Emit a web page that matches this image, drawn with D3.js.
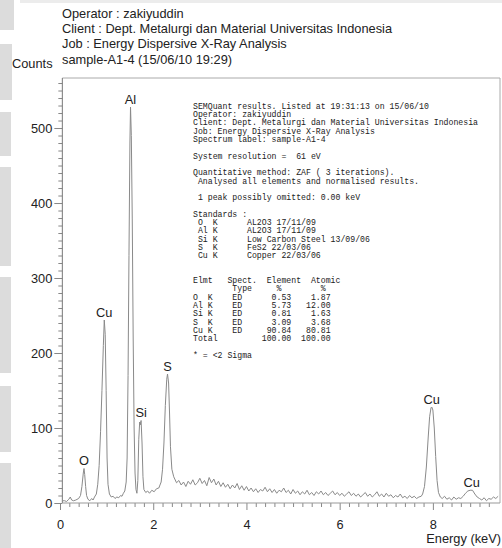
<!DOCTYPE html>
<html>
<head>
<meta charset="utf-8">
<script src="https://cdn.jsdelivr.net/npm/d3@7"></script>
<style>
  body { margin: 0; background: #fff; }
  svg { display: block; }
</style>
</head>
<body>
<svg id="chart" width="502" height="548"></svg>
<script>
// ---- Header lines printed above the spectrum ----
const headerLines = [
  "Operator : zakiyuddin",
  "Client : Dept. Metalurgi dan Material Universitas Indonesia",
  "Job : Energy Dispersive X-Ray Analysis",
  "sample-A1-4 (15/06/10 19:29)"
];

// ---- EDS spectrum: [energy keV, counts] ----
const spectrum = [
  [0.06,3],[0.10,3],[0.14,2],[0.19,5],[0.22,8],[0.25,4],[0.29,3],[0.34,4],[0.40,6],[0.44,10],
  [0.47,22],[0.50,40],[0.515,46],[0.53,38],[0.55,22],[0.57,10],[0.60,5],[0.64,3],[0.68,6],[0.71,4],
  [0.74,8],[0.78,12],[0.81,25],[0.84,50],[0.87,95],[0.90,150],[0.93,210],[0.95,244],[0.97,225],[0.99,150],
  [1.01,60],[1.03,25],[1.06,12],[1.10,8],[1.14,9],[1.18,6],[1.22,8],[1.26,7],[1.30,10],[1.33,9],[1.36,13],
  [1.39,16],[1.42,28],[1.44,60],[1.46,170],[1.48,330],[1.50,480],[1.513,528],[1.53,490],[1.55,380],[1.57,220],
  [1.59,100],[1.61,40],[1.63,18],[1.65,13],
  [1.67,30],[1.69,85],[1.71,108],[1.72,104],[1.74,110],[1.76,80],[1.78,35],[1.80,18],[1.84,14],[1.88,16],
  [1.92,13],[1.97,17],[2.02,15],[2.07,19],[2.12,20],
  [2.17,28],[2.20,45],[2.23,80],[2.26,130],[2.29,165],[2.307,172],[2.33,160],[2.35,120],[2.37,75],[2.40,45],[2.44,35],
  [2.50,27],[2.55,30],[2.60,24],[2.65,28],[2.70,22],[2.75,29],[2.80,25],[2.85,31],[2.90,24],[2.95,27],
  [3.00,33],[3.05,26],[3.10,30],[3.15,23],[3.20,34],[3.25,27],[3.30,32],[3.35,24],[3.40,29],[3.45,22],
  [3.50,27],[3.55,21],[3.60,25],[3.65,19],[3.70,24],[3.75,20],[3.80,26],[3.85,18],[3.90,23],[3.95,17],
  [4.00,22],[4.05,16],[4.10,20],[4.15,15],[4.20,19],[4.25,14],[4.30,18],[4.35,16],[4.40,21],[4.45,15],
  [4.50,19],[4.55,14],[4.60,18],[4.65,13],[4.70,17],[4.75,15],[4.80,20],[4.85,14],[4.90,17],[4.95,12],
  [5.00,18],[5.05,13],[5.10,16],[5.15,11],[5.20,15],[5.25,12],[5.30,17],[5.35,11],[5.40,14],[5.45,10],
  [5.50,15],[5.55,12],[5.60,16],[5.65,11],[5.70,14],[5.75,10],[5.80,13],[5.85,16],[5.90,11],[5.95,14],
  [6.00,10],[6.05,13],[6.10,9],[6.15,12],[6.20,15],[6.25,10],[6.30,13],[6.35,9],[6.40,12],[6.45,8],
  [6.50,11],[6.55,14],[6.60,9],[6.65,12],[6.70,8],[6.75,11],[6.80,15],[6.85,9],[6.90,12],[6.95,8],
  [7.00,13],[7.05,9],[7.10,11],[7.15,7],[7.20,10],[7.25,8],[7.30,12],[7.35,7],[7.40,9],[7.45,6],
  [7.50,10],[7.55,7],[7.60,9],[7.65,6],[7.70,8],[7.75,9],
  [7.78,12],[7.82,22],[7.86,48],[7.90,88],[7.93,115],[7.96,127],[7.976,128],[8.00,124],[8.03,100],[8.06,62],
  [8.09,30],[8.12,14],[8.16,8],[8.20,6],[8.25,9],[8.30,5],[8.35,7],[8.40,4],[8.45,8],[8.50,5],
  [8.55,7],[8.60,6],[8.65,9],[8.70,13],[8.75,16],[8.80,17],[8.85,17],[8.90,12],[8.95,8],[9.00,6],
  [9.05,4],[9.10,7],[9.15,3],[9.20,6],[9.25,5],[9.30,8],[9.35,6],[9.40,9]
];

// ---- Peak identifications ----
const peakNames    = ["O",   "Cu",  "Al",   "Si",  "S",    "Cu",   "Cu"];
const peakEnergies = [0.515, 0.95,  1.513,  1.74,  2.307,  7.976,  8.835];
const peakCounts   = [46,    244,   528,    110,   172,    128,    17];

// ---- Axis ticks ----
const xMajorTicks = [0, 2, 4, 6, 8];
const yMajorTicks = [0, 100, 200, 300, 400, 500];

// ---- Quantification report ----
const reportHead = [
  "SEMQuant results. Listed at 19:31:13 on 15/06/10",
  "Operator: zakiyuddin",
  "Client: Dept. Metalurgi dan Material Universitas Indonesia",
  "Job: Energy Dispersive X-Ray Analysis",
  "Spectrum label: sample-A1-4",
  "",
  "System resolution =  61 eV",
  "",
  "Quantitative method: ZAF ( 3 iterations).",
  " Analysed all elements and normalised results.",
  "",
  " 1 peak possibly omitted: 0.00 keV",
  "",
  "Standards :"
];
const elements    = ["O", "Al", "Si", "S", "Cu"];
const standards   = ["AL2O3 17/11/09", "AL2O3 17/11/09", "Low Carbon Steel 13/09/06", "FeS2 22/03/06", "Copper 22/03/06"];
const elementPct  = [0.53, 5.73, 0.81, 3.09, 90.84];
const atomicPct   = [1.87, 12.00, 1.63, 3.68, 80.81];
const totalPct    = [100.00, 100.00];

// ---------------------------------------------------------------
const svg = d3.select("#chart");
svg.append("rect").attr("width", 502).attr("height", 548).attr("fill", "#fff");

// faint grey band along the left edge of the page
const band = svg.append("g").attr("fill", "#dcdcdc");
[[0, 30, 14], [44, 100, 12], [112, 156, 11], [167, 266, 11], [277, 373, 11], [386, 452, 11], [463, 548, 11]]
  .forEach(([a, b, w]) => band.append("rect").attr("x", 0).attr("y", a).attr("width", w).attr("height", b - a));
svg.append("rect").attr("x", 20).attr("y", 0).attr("width", 482).attr("height", 3).attr("fill", "#ececec");

const x = d3.scaleLinear().domain([0, 9.44]).range([60, 500]);
const y = d3.scaleLinear().domain([0, 566.7]).range([503, 78]);
const axisX = x(0.05);

const sans = "'Liberation Sans', Arial, sans-serif";
const mono = "'Liberation Mono', 'DejaVu Sans Mono', monospace";

// header
svg.append("g").selectAll("text").data(headerLines).join("text")
  .attr("x", 62).attr("y", (d, i) => 17.5 + i * 15.4)
  .attr("font-family", sans).attr("font-size", 12.8).attr("fill", "#222")
  .text(d => d);

svg.append("text").attr("x", 12).attr("y", 67.5)
  .attr("font-family", sans).attr("font-size", 12.8).attr("fill", "#222")
  .text("Counts");

// frame
svg.append("path")
  .attr("d", `M${axisX},${y(566.7)}H${x(9.44)}V${y(0)}`)
  .attr("fill", "none").attr("stroke", "#aaa").attr("stroke-width", 1);

// y axis
const yAxisG = svg.append("g").attr("transform", `translate(${axisX},0)`);
yAxisG.call(d3.axisLeft(y).tickValues(d3.range(10, 561, 10).filter(v => v % 100)).tickSize(4).tickFormat(""));
yAxisG.call(g => g.select(".domain").remove());
const yMajor = svg.append("g").attr("transform", `translate(${axisX},0)`)
  .call(d3.axisLeft(y).tickValues(yMajorTicks).tickSize(8).tickPadding(2).tickFormat(d3.format("d")));
yMajor.select(".domain").remove();
yMajor.selectAll("text").attr("font-family", sans).attr("font-size", 12.8).attr("fill", "#222");
svg.selectAll(".tick line").attr("stroke", "#888");
svg.append("line").attr("x1", axisX).attr("x2", axisX).attr("y1", y(566.7)).attr("y2", y(0))
  .attr("stroke", "#777").attr("stroke-width", 1);

// x axis
const xMinor = svg.append("g").attr("transform", `translate(0,${y(0)})`)
  .call(d3.axisBottom(x).tickValues(d3.range(0, 47).map(i => i * 0.2).filter((v, i) => i % 10)).tickSize(4).tickFormat(""));
xMinor.select(".domain").remove();
const xMajor = svg.append("g").attr("transform", `translate(0,${y(0)})`)
  .call(d3.axisBottom(x).tickValues(xMajorTicks).tickSize(7).tickPadding(9.5).tickFormat(d3.format("d")));
xMajor.select(".domain").remove();
xMajor.selectAll("text").attr("font-family", sans).attr("font-size", 12.8).attr("fill", "#222");
svg.selectAll(".tick line").attr("stroke", "#888");
svg.append("line").attr("x1", axisX).attr("x2", x(9.44)).attr("y1", y(0)).attr("y2", y(0))
  .attr("stroke", "#999").attr("stroke-width", 1);

svg.append("text").attr("x", 501).attr("y", 542.5).attr("text-anchor", "end")
  .attr("font-family", sans).attr("font-size", 12.8).attr("fill", "#222")
  .text("Energy (keV)");

// spectrum trace
svg.append("path").datum(spectrum)
  .attr("d", d3.line().x(d => x(d[0])).y(d => y(d[1])))
  .attr("fill", "none").attr("stroke", "#8a8a8a").attr("stroke-width", 1);

// peak labels
svg.append("g").selectAll("text").data(peakNames).join("text")
  .attr("x", (d, i) => x(peakEnergies[i])).attr("y", (d, i) => y(peakCounts[i]) - 3.5)
  .attr("text-anchor", "middle")
  .attr("font-family", sans).attr("font-size", 12.8).attr("fill", "#222")
  .text(d => d);

// quantification report
const pad = (s, n) => (s + " ".repeat(n)).slice(0, n);
const lpad = (s, n) => (" ".repeat(n) + s).slice(-n);
const report = reportHead.slice();
elements.forEach((el, i) => report.push(" " + pad(el, 2) + " K      " + standards[i]));
report.push("", "");
report.push("Elmt   Spect.  Element  Atomic");
report.push("        Type     %        %");
elements.forEach((el, i) =>
  report.push(pad(el, 3) + "K    ED" + lpad(elementPct[i].toFixed(2), 10) + lpad(atomicPct[i].toFixed(2), 8)));
report.push("Total" + lpad(totalPct[0].toFixed(2), 15) + lpad(totalPct[1].toFixed(2), 8));
report.push("");
report.push("* = <2 Sigma");

svg.append("g").selectAll("text").data(report).join("text")
  .attr("x", 193).attr("y", (d, i) => 108.8 + i * 8.3)
  .attr("font-family", mono).attr("font-size", 8.2).attr("fill", "#222")
  .attr("xml:space", "preserve").style("white-space", "pre")
  .text(d => d);
</script>
</body>
</html>
